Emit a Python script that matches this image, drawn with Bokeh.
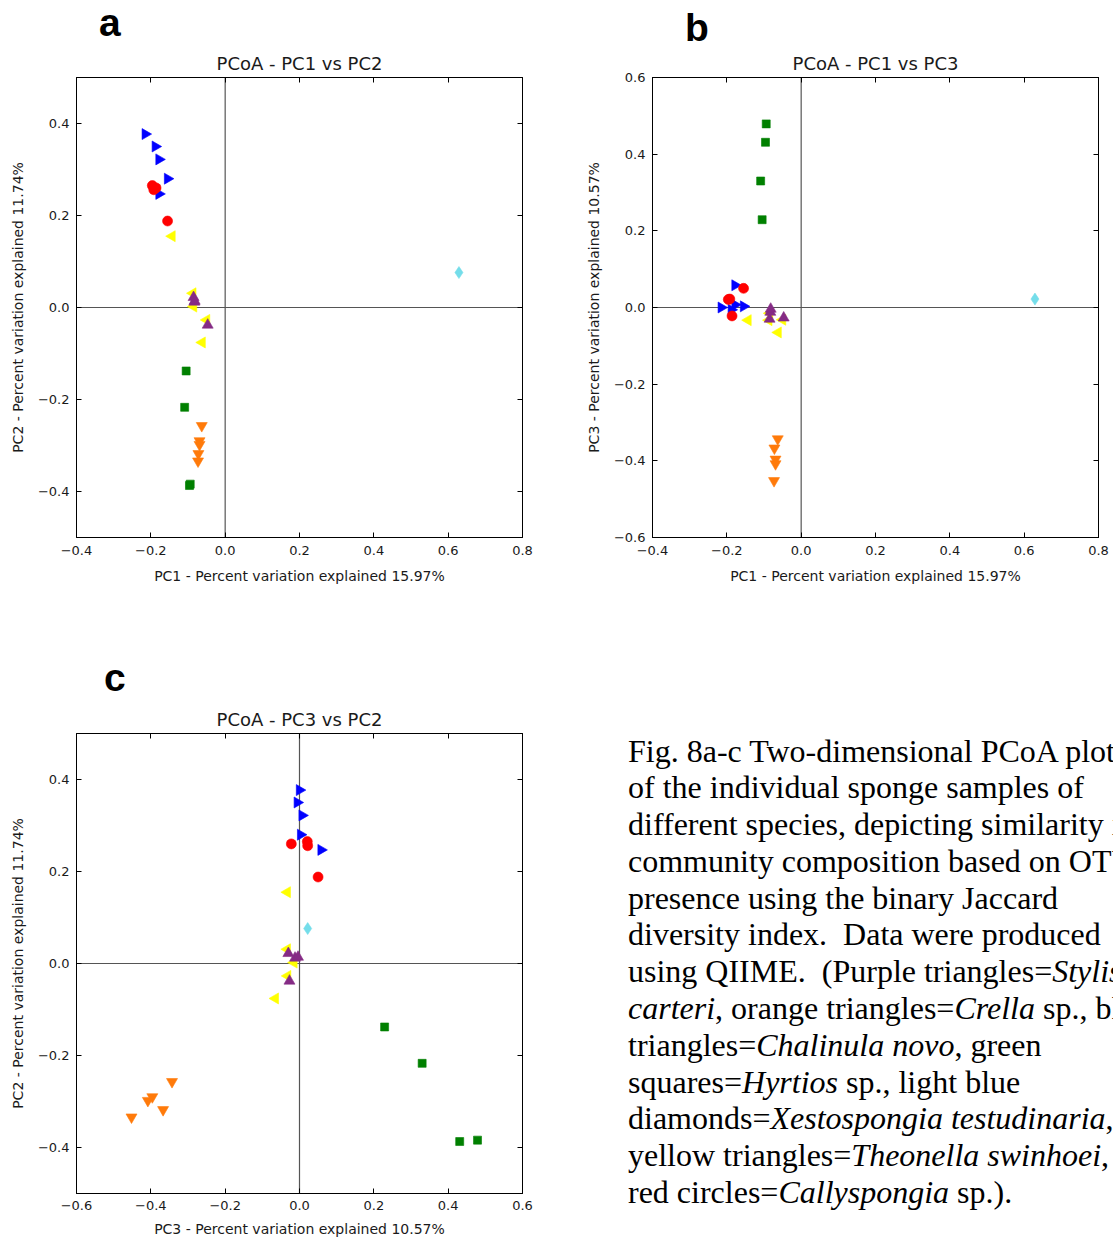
from bokeh.plotting import figure
from bokeh.models import Span, Title, LinearAxis, FixedTicker, Div, Range1d, CustomJSTickFormatter
from bokeh.layouts import column, row
from bokeh.embed import file_html
from bokeh.resources import INLINE

# ---------------- data (PC1, PC2, PC3 per sample) ----------------
chalinula_pc1 = [-0.215, -0.188, -0.178, -0.155, -0.178]
chalinula_pc2 = [0.377, 0.350, 0.322, 0.280, 0.247]
chalinula_pc3 = [0.000, -0.006, 0.007, 0.003, 0.058]

theonella_pc1 = [-0.143, -0.087, -0.085, -0.050, -0.062]
theonella_pc2 = [0.155, 0.031, 0.002, -0.027, -0.076]
theonella_pc3 = [-0.033, -0.033, -0.015, -0.032, -0.065]

stylissa_pc1 = [-0.085, -0.083, -0.082, -0.047]
stylissa_pc2 = [0.022, 0.012, 0.014, -0.038]
stylissa_pc3 = [-0.030, -0.012, -0.004, -0.027]

callyspongia_pc1 = [-0.186, -0.196, -0.192, -0.155]
callyspongia_pc2 = [0.260, 0.265, 0.256, 0.188]
callyspongia_pc3 = [-0.022, 0.021, 0.022, 0.050]

hyrtios_pc1 = [-0.105, -0.109, -0.096, -0.094]
hyrtios_pc2 = [-0.138, -0.217, -0.387, -0.384]
hyrtios_pc3 = [0.229, 0.330, 0.431, 0.479]

crella_pc1 = [-0.063, -0.069, -0.069, -0.072, -0.073]
crella_pc2 = [-0.257, -0.290, -0.298, -0.318, -0.334]
crella_pc3 = [-0.343, -0.396, -0.408, -0.367, -0.452]

xestospongia_pc1 = [0.629]
xestospongia_pc2 = [0.076]
xestospongia_pc3 = [0.022]

panel_letters = ["a", "b", "c"]
panel_titles = ["PCoA - PC1 vs PC2", "PCoA - PC1 vs PC3", "PCoA - PC3 vs PC2"]
pc1_label = "PC1 - Percent variation explained 15.97%"
pc2_label = "PC2 - Percent variation explained 11.74%"
pc3_label = "PC3 - Percent variation explained 10.57%"

ticks_m04_08 = [-0.4, -0.2, 0.0, 0.2, 0.4, 0.6, 0.8]
ticks_m04_04 = [-0.4, -0.2, 0.0, 0.2, 0.4]
ticks_m06_06 = [-0.6, -0.4, -0.2, 0.0, 0.2, 0.4, 0.6]

# species drawing order / styles
species = [
    ("chalinula", chalinula_pc1, chalinula_pc2, chalinula_pc3, "triangle", -1.5708, "#0000FF", 11),
    ("theonella", theonella_pc1, theonella_pc2, theonella_pc3, "triangle", 1.5708, "#FFFF00", 11),
    ("stylissa", stylissa_pc1, stylissa_pc2, stylissa_pc3, "triangle", 0.0, "#852B85", 11),
    ("callyspongia", callyspongia_pc1, callyspongia_pc2, callyspongia_pc3, "circle", 0.0, "#FF0000", 10),
    ("hyrtios", hyrtios_pc1, hyrtios_pc2, hyrtios_pc3, "square", 0.0, "#008000", 8),
    ("crella", crella_pc1, crella_pc2, crella_pc3, "inverted_triangle", 0.0, "#FF7A0A", 11),
    ("xestospongia", xestospongia_pc1, xestospongia_pc2, xestospongia_pc3, "diamond", 0.0, "#74DDEA", 12),
]

FONT = "DejaVu Sans"
fmt = CustomJSTickFormatter(code="return tick.toFixed(1).replace('-', '\\u2212');")
blank_fmt = CustomJSTickFormatter(code="return '';")


def style_axis(ax, ticks, label=None):
    ax.ticker = FixedTicker(ticks=ticks)
    ax.major_tick_in = 5
    ax.major_tick_out = 0
    ax.minor_tick_in = 0
    ax.minor_tick_out = 0
    ax.axis_line_color = "black"
    ax.major_tick_line_color = "black"
    if label is None:
        ax.formatter = blank_fmt
        ax.major_label_standoff = 0
    else:
        ax.formatter = fmt
        ax.major_label_text_font = FONT
        ax.major_label_text_font_size = "13px"
        ax.major_label_text_color = "#1a1a1a"
        ax.axis_label = label
        ax.axis_label_text_font = FONT
        ax.axis_label_text_font_size = "14px"
        ax.axis_label_text_font_style = "normal"
        ax.axis_label_text_color = "#1a1a1a"


def make_panel(title, xi, yi, xr, yr, xt, yt, xlab, ylab, w, h, bl, br, bt, bb, xstand=(8, 10)):
    p = figure(width=w, height=h, x_range=Range1d(*xr), y_range=Range1d(*yr),
               output_backend="svg", toolbar_location=None, tools="",
               min_border_left=bl, min_border_right=br, min_border_top=bt, min_border_bottom=bb)
    p.grid.visible = False
    p.outline_line_color = "black"
    p.outline_line_width = 1
    p.background_fill_color = "white"
    p.border_fill_color = "white"
    style_axis(p.xaxis[0], xt, xlab)
    p.xaxis[0].major_label_standoff = xstand[0]
    p.xaxis[0].axis_label_standoff = xstand[1]
    style_axis(p.yaxis[0], yt, ylab)
    p.yaxis[0].major_label_standoff = 7
    p.yaxis[0].axis_label_standoff = 9
    top = LinearAxis()
    style_axis(top, xt)
    p.add_layout(top, "above")
    right = LinearAxis()
    style_axis(right, yt)
    p.add_layout(right, "right")
    p.add_layout(Title(text=title, align="center", text_font=FONT, text_font_size="18px",
                       text_font_style="normal", text_color="#1a1a1a", standoff=8), "above")
    p.add_layout(Span(location=0, dimension="height", line_color="#555555", line_width=1.2, level="underlay"))
    p.add_layout(Span(location=0, dimension="width", line_color="#555555", line_width=1.2, level="underlay"))
    for name, a1, a2, a3, marker, ang, color, size in species:
        cols = [a1, a2, a3]
        p.scatter(cols[xi], cols[yi], marker=marker, angle=ang, size=size,
                  fill_color=color, line_color=color, line_width=0.6)
    return p


pa = make_panel(panel_titles[0], 0, 1, (-0.4, 0.8), (-0.5, 0.5), ticks_m04_08, ticks_m04_04,
                pc1_label, pc2_label, 580, 555, 76, 58, 32, 63)
pb = make_panel(panel_titles[1], 0, 2, (-0.4, 0.8), (-0.6, 0.6), ticks_m04_08, ticks_m06_06,
                pc1_label, pc3_label, 533, 555, 72, 15, 32, 63)
pc = make_panel(panel_titles[2], 2, 1, (-0.6, 0.6), (-0.5, 0.5), ticks_m06_06, ticks_m04_04,
                pc3_label, pc2_label, 585, 541, 76, 63, 33, 48, xstand=(7, 8))

LETTER_STYLE = ("position:absolute;font-family:'Liberation Sans';font-weight:bold;font-size:39px;"
                "line-height:normal;color:black;")
letters_ab = Div(
    text=("<div style=\"position:relative;width:1113px;height:45px;\">"
          f"<span style=\"{LETTER_STYLE}left:99px;top:1px;\">{panel_letters[0]}</span>"
          f"<span style=\"{LETTER_STYLE}left:685px;top:6px;\">{panel_letters[1]}</span></div>"),
    width=1113, height=45, margin=0)
letter_c = Div(
    text=("<div style=\"position:relative;width:585px;height:100px;\">"
          f"<span style=\"{LETTER_STYLE}left:104px;top:56px;\">{panel_letters[2]}</span></div>"),
    width=585, height=100, margin=0)

caption_lines = [
    "Fig. 8a-c Two-dimensional PCoA plot",
    "of the individual sponge samples of",
    "different species, depicting similarity in",
    "community composition based on OTU",
    "presence using the binary Jaccard",
    "diversity index.&nbsp; Data were produced",
    "using QIIME.&nbsp; (Purple triangles=<i>Stylissa</i>",
    "<i>carteri</i>, orange triangles=<i>Crella</i> sp., blue",
    "triangles=<i>Chalinula novo</i>, green",
    "squares=<i>Hyrtios</i> sp., light blue",
    "diamonds=<i>Xestospongia testudinaria</i>,",
    "yellow triangles=<i>Theonella swinhoei</i>,",
    "red circles=<i>Callyspongia</i> sp.).",
]
caption_html = ("<div style=\"box-sizing:border-box;font-family:'Liberation Serif';font-size:32px;line-height:36.8px;"
                "white-space:nowrap;overflow:hidden;width:528px;padding-left:43px;padding-top:132.5px;color:black;\">"
                + "<br>".join(caption_lines) + "</div>")
caption = Div(text=caption_html, width=528, height=641, margin=0, styles={"overflow": "hidden"})

layout = column(letters_ab, row(pa, pb), row(column(letter_c, pc), caption))
open("out.html", "w").write(file_html(layout, INLINE))
